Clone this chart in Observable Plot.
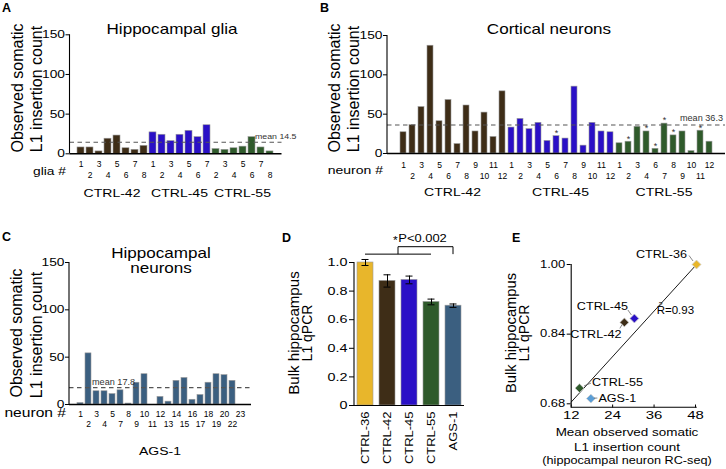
<!DOCTYPE html>
<html><head><meta charset="utf-8">
<script src="https://cdn.jsdelivr.net/npm/d3@7"></script>
<script src="https://cdn.jsdelivr.net/npm/@observablehq/plot@0.6"></script>
<style>
body{margin:0;background:#fff;}
#fig{position:relative;width:726px;height:469px;background:#fff;overflow:hidden;font-family:"Liberation Sans",Arial,sans-serif;}
#fig svg{position:absolute;background:transparent;max-width:none;overflow:visible;}
</style></head><body><div id="fig"></div>
<script>
// ---------------- DATA ----------------
// A: hippocampal glia
const gliaIds42 = [1,2,3,4,5,6,7,8];
const gliaCounts42 = [8,8,3,19,23,7,5,10];
const gliaIds45 = [1,2,3,4,5,6,7];
const gliaCounts45 = [27,24,16,24,29,21,36];
const gliaIds55 = [2,3,4,5,6,7,8];
const gliaCounts55 = [6,5,7,9,21,8,3];
const gliaMean = 14.5;
// B: cortical neurons
const cortIds42 = [1,2,3,4,5,6,7,8,9,10,11,12];
const cortCounts42 = [27,36,59,137,41,68,12,61,28,52,21,79];
const cortIds45 = [1,2,3,4,5,6,7,8,9,10,11,12];
const cortCounts45 = [33,44,31,39,16,22,19,85,10,39,28,27];
const cortIds55 = [1,2,3,4,6,7,8,9,10,11,12];
const cortCounts55 = [13,15,34,28,6,38,23,28,3,29,15];
const cortStar45 = [6];
const cortStar55 = [2,4,6,7,8,11];
const cortMean = 36.3;
// C: hippocampal neurons AGS-1
const hipIds = [1,2,3,4,5,7,8,9,10,11,12,13,14,15,16,17,18,19,20,22,23];
const hipCounts = [1.5,54,14,14,11,15,1,23,32,0,8,3,25,28,5,10,23,32,31,25,0];
const hipMean = 17.8;
// D: bulk qPCR
const qpcrDonors = ["CTRL-36","CTRL-42","CTRL-45","CTRL-55","AGS-1"];
const qpcrValues = [1.0,0.871,0.878,0.724,0.698];
const qpcrErrors = [0.021,0.043,0.027,0.02,0.012];
// E: correlation
const corrDonors = ["CTRL-36","CTRL-45","CTRL-42","CTRL-55","AGS-1"];
const corrCounts = [48.3,30.3,27.4,14.4,17.7];
const corrQpcr = [1.0,0.876,0.867,0.716,0.692];
const fitCounts = [12,48.3];
const fitQpcr = [0.684,1.0];
const r2Value = "0.93";
// ticks
const countTicks = [0,50,100,150];
const qpcrTicks = [0,0.2,0.4,0.6,0.8,1.0];
const corrXTicks = [12,24,36,48];
const corrYTicks = [0.68,0.84,1.00];

// ---------------- STYLE ----------------
const FONT = '"Liberation Sans", Arial, sans-serif';
const donorColor = {"CTRL-36":"#E8B62B","CTRL-42":"#3E2D17","CTRL-45":"#2A10C6","CTRL-55":"#2F5A2B","AGS-1":"#3B5F80"};
const corrColor = {"CTRL-36":"#E8B62B","CTRL-42":"#3E2D17","CTRL-45":"#2A10C6","CTRL-55":"#2F5A2B","AGS-1":"#5B9ED6"};
const baseStyle = {fontFamily: FONT, background: "transparent", overflow: "visible", color: "#000"};
const fig = document.getElementById("fig");

function place(svg, left, top){ svg.style.left = left+"px"; svg.style.top = top+"px"; fig.appendChild(svg); return svg; }
function txt(svg, x, y, s, o = {}){
  const t = d3.select(svg).append("text")
    .attr("transform", `translate(${x},${y})` + (o.rotate ? ` rotate(${o.rotate})` : "") + ((o.sx||1)!==1 ? ` scale(${o.sx},1)` : ""))
    .attr("text-anchor", o.anchor || "middle")
    .attr("dy", o.dy ?? "0.35em")
    .attr("font-size", o.size || 11)
    .attr("font-family", FONT)
    .attr("fill", o.fill || "#000");
  if (o.weight) t.attr("font-weight", o.weight);
  if (s != null) t.text(s);
  return t;
}
function seg(svg, x1, y1, x2, y2, o = {}){
  d3.select(svg).append("line").attr("x1",x1).attr("y1",y1).attr("x2",x2).attr("y2",y2)
    .attr("stroke", o.stroke || "#000").attr("stroke-width", o.width || 1).attr("fill","none");
}
function stretch(svg, selector, sx){
  svg.querySelectorAll(selector).forEach(t => {
    let tr = t.getAttribute("transform") || "";
    const x = t.getAttribute("x");
    if (x != null && !isNaN(+x)) { tr += ` translate(${+x},0)`; t.removeAttribute("x"); }
    t.setAttribute("transform", tr + ` scale(${sx},1)`);
  });
}
function buildRows(groups){
  const rows = [];
  let gi = 0;
  for (const g of groups) g.ids.forEach((id, i) => rows.push({key: g.donor+"#"+id, donor: g.donor, id, count: g.counts[i], star: (g.stars||[]).includes(id), idx: gi++}));
  return rows;
}
function groupLabels(plot, rows, y, o){
  const x = plot.scale("x"), bw = x.bandwidth;
  for (const donor of new Set(rows.map(d => d.donor))){
    const ks = rows.filter(d => d.donor === donor).map(d => d.key);
    const cx = (x.apply(ks[0]) + x.apply(ks[ks.length-1]) + bw) / 2;
    txt(plot, cx, y, donor, o);
  }
}
function yAxisLine(plot, top){
  const x0 = plot.scale("x").range[0], ys = plot.scale("y");
  seg(plot, x0, ys.apply(top), x0, ys.apply(0), {width: 1.1});
}
function countPlot(rows, cfg){
  const keys = rows.map(d => d.key);
  const lab = new Map(rows.map(d => [d.key, String(d.id)]));
  return Plot.plot({
    width: cfg.width, height: cfg.height,
    marginLeft: cfg.ml, marginRight: cfg.mr, marginTop: cfg.mt, marginBottom: cfg.mb,
    style: baseStyle,
    x: {type: "band", domain: keys, paddingInner: cfg.pad, paddingOuter: 0.08},
    y: {domain: [0,150]},
    color: {type: "identity"},
    marks: [
      Plot.barY(rows, {x: "key", y: "count", fill: d => donorColor[d.donor], stroke: "#9a9a9a", strokeWidth: 0.6}),
      Plot.ruleY([cfg.mean], {stroke: "#555", strokeWidth: 1.1, strokeDasharray: "4.5,3.5"}),
      Plot.ruleY([0], {stroke: "#000", strokeWidth: 1.5}),
      Plot.text(rows.filter(d => d.star), {x: "key", y: "count", text: () => "*", dy: -3, fontSize: 9, fill: "#333"}),
      Plot.axisY(countTicks, {tickSize: 4, tickPadding: 1, fontSize: 11.3, label: null}),
      Plot.axisX(keys.filter((k,i) => i%2===0), {tickSize: 0, tickPadding: cfg.p1, fontSize: 8.5, tickFormat: k => lab.get(k), label: null}),
      Plot.axisX(keys.filter((k,i) => i%2===1), {tickSize: 0, tickPadding: cfg.p2, fontSize: 8.5, tickFormat: k => lab.get(k), label: null})
    ]
  });
}
const YT = 'g[aria-label="y-axis tick label"] text';
const XT = 'g[aria-label="x-axis tick label"] text';

// ---------------- PANEL A ----------------
const rowsA = buildRows([
  {donor: "CTRL-42", ids: gliaIds42, counts: gliaCounts42},
  {donor: "CTRL-45", ids: gliaIds45, counts: gliaCounts45},
  {donor: "CTRL-55", ids: gliaIds55, counts: gliaCounts55}
]);
const pA = place(countPlot(rowsA, {width: 310, height: 205, ml: 69.5, mr: 28.5, mt: 34.3, mb: 51.7, pad: 0.22, mean: gliaMean, p1: 7.5, p2: 18.4}), 0, 0);
stretch(pA, YT, 1.22);
yAxisLine(pA, 150);
txt(pA, 172, 29, "Hippocampal glia", {size: 14, sx: 1.22});
txt(pA, 17.5, 88, "Observed somatic", {size: 16, rotate: -90});
txt(pA, 36, 89, "L1 insertion count", {size: 16, rotate: -90});
txt(pA, 66, 170.7, "glia #", {size: 11.3, sx: 1.22, anchor: "end"});
groupLabels(pA, rowsA, 193, {size: 11.5, sx: 1.22});
{ const x = pA.scale("x"), y = pA.scale("y");
  txt(pA, x.apply(rowsA[20].key) - 2, y.apply(gliaMean) - 6, "mean " + gliaMean, {size: 8, sx: 1.1, anchor: "start", fill: "#333"}); }
txt(pA, 2, 7.5, "A", {size: 12.5, weight: "bold", anchor: "start"});

// ---------------- PANEL B ----------------
const rowsB = buildRows([
  {donor: "CTRL-42", ids: cortIds42, counts: cortCounts42},
  {donor: "CTRL-45", ids: cortIds45, counts: cortCounts45, stars: cortStar45},
  {donor: "CTRL-55", ids: cortIds55, counts: cortCounts55, stars: cortStar55}
]);
const pB = place(countPlot(rowsB, {width: 416, height: 205, ml: 77, mr: 1, mt: 35, mb: 52, pad: 0.38, mean: cortMean, p1: 8.3, p2: 19.7}), 310, 0);
stretch(pB, YT, 1.22);
yAxisLine(pB, 150);
txt(pB, 239, 29, "Cortical neurons", {size: 14, sx: 1.22});
txt(pB, 24, 88, "Observed somatic", {size: 16, rotate: -90});
txt(pB, 43, 89, "L1 insertion count", {size: 16, rotate: -90});
txt(pB, 73, 170, "neuron #", {size: 11.5, sx: 1.22, anchor: "end"});
groupLabels(pB, rowsB, 192, {size: 11.5, sx: 1.22});
{ const y = pB.scale("y");
  txt(pB, 413, y.apply(cortMean) - 6.5, "mean " + cortMean, {size: 8.3, sx: 1.1, anchor: "end", fill: "#333"}); }
txt(pB, 10, 7.5, "B", {size: 12.5, weight: "bold", anchor: "start"});

// ---------------- PANEL C ----------------
const rowsC = buildRows([{donor: "AGS-1", ids: hipIds, counts: hipCounts}]);
const pC = place(countPlot(rowsC, {width: 260, height: 239, ml: 69, mr: 9, mt: 32, mb: 65, pad: 0.22, mean: hipMean, p1: 6.2, p2: 16.8}), 0, 230);
stretch(pC, YT, 1.22);
yAxisLine(pC, 150);
txt(pC, 161, 23.3, "Hippocampal", {size: 14, sx: 1.22});
txt(pC, 161, 38.3, "neurons", {size: 14, sx: 1.22});
txt(pC, 16, 103, "Observed somatic", {size: 16, rotate: -90});
txt(pC, 36, 105, "L1 insertion count", {size: 16, rotate: -90});
txt(pC, 66, 183, "neuron #", {size: 12.5, sx: 1.25, anchor: "end"});
groupLabels(pC, rowsC, 221, {size: 11.5, sx: 1.22});
{ const x = pC.scale("x"), y = pC.scale("y");
  txt(pC, x.apply(rowsC[2].key) - 1, y.apply(hipMean) - 5.5, "mean " + hipMean, {size: 8.3, sx: 1.1, anchor: "start", fill: "#333"}); }
txt(pC, 2, 7, "C", {size: 12.5, weight: "bold", anchor: "start"});

// ---------------- PANEL D ----------------
const rowsD = qpcrDonors.map((d, i) => ({donor: d, value: qpcrValues[i], lo: qpcrValues[i] - qpcrErrors[i], hi: qpcrValues[i] + qpcrErrors[i]}));
const pD = place(Plot.plot({
  width: 230, height: 239, marginLeft: 104, marginRight: 16, marginTop: 32, marginBottom: 64,
  style: baseStyle,
  x: {type: "band", domain: qpcrDonors, paddingInner: 0.27, paddingOuter: 0.08},
  y: {domain: [0, 1]},
  color: {type: "identity"},
  marks: [
    Plot.barY(rowsD, {x: "donor", y: "value", fill: d => donorColor[d.donor], stroke: "#9a9a9a", strokeWidth: 0.6}),
    Plot.ruleX(rowsD, {x: "donor", y1: "lo", y2: "hi", stroke: "#000", strokeWidth: 1}),
    Plot.tickY(rowsD, {x: "donor", y: "hi", insetLeft: 4.5, insetRight: 4.5, stroke: "#000"}),
    Plot.tickY(rowsD, {x: "donor", y: "lo", insetLeft: 4.5, insetRight: 4.5, stroke: "#000"}),
    Plot.ruleY([0], {stroke: "#000", strokeWidth: 1.2}),
    Plot.axisY(qpcrTicks, {tickSize: 5, tickPadding: 2, fontSize: 11.5, tickFormat: d => d === 0 ? "0" : d.toFixed(1), label: null}),
    Plot.axisX({tickRotate: -90, tickSize: 0, tickPadding: 6, fontSize: 11.8, label: null})
  ]
}), 250, 230);
stretch(pD, YT, 1.25);
stretch(pD, XT, 1.1);
yAxisLine(pD, 1);
{ const x = pD.scale("x"), y = pD.scale("y"), bw = x.bandwidth;
  const c = k => x.apply(k) + bw / 2;
  const yLow = y.apply(1.055), yHigh = y.apply(1.107);
  const xa = c("CTRL-36"), xb = c("CTRL-55"), xm = (xa + xb) / 2, xg = c("AGS-1");
  seg(pD, xa, yLow, xb, yLow);
  seg(pD, xm, yLow, xm, yHigh);
  seg(pD, xm, yHigh, xg, yHigh);
  seg(pD, xg, yHigh, xg, yLow);
  const t = txt(pD, xm - 5, 11.7, null, {size: 10.8, sx: 1.2, anchor: "start"});
  t.append("tspan").attr("font-size", 10).attr("dy", 1.8).text("*");
  t.append("tspan").attr("dy", -1.8).attr("dx", 0.5).text("P<0.002");
}
txt(pD, 44, 103, "Bulk hippocampus", {size: 14, sx: 1.08, rotate: -90});
txt(pD, 57, 103, "L1 qPCR", {size: 14, sx: 1.0, rotate: -90});
txt(pD, 32, 8, "D", {size: 12.5, weight: "bold", anchor: "start"});

// ---------------- PANEL E ----------------
const rowsE = corrDonors.map((d, i) => ({donor: d, count: corrCounts[i], qpcr: corrQpcr[i]}));
const fitRows = fitCounts.map((c, i) => ({count: c, qpcr: fitQpcr[i]}));
const pE = place(Plot.plot({
  width: 246, height: 239, marginLeft: 90.7, marginRight: 31, marginTop: 34, marginBottom: 65.7,
  style: baseStyle,
  x: {domain: [12, 48]},
  y: {domain: [0.68, 1.0]},
  color: {type: "identity"},
  marks: [
    Plot.ruleX([12], {y1: 0.672, y2: 1.0, stroke: "#000", strokeWidth: 1.1}),
    Plot.ruleY([0.672], {x1: 12, x2: 48.5, stroke: "#000", strokeWidth: 1.1}),
    Plot.line(fitRows, {x: "count", y: "qpcr", stroke: "#000", strokeWidth: 0.9}),
    Plot.dot(rowsE, {x: "count", y: "qpcr", symbol: "diamond2", r: 4, fill: d => corrColor[d.donor], stroke: "#cfcfcf", strokeWidth: 0.8}),
    Plot.axisY(corrYTicks, {tickSize: 4, tickPadding: 2, fontSize: 10, tickFormat: d => d.toFixed(2), label: null}),
    Plot.axisX(corrXTicks, {tickSize: 3, tickPadding: 4, fontSize: 10.5, label: null, dy: 1.2})
  ]
}), 480, 230);
stretch(pE, YT, 1.3);
stretch(pE, XT, 1.42);
{ const x = pE.scale("x"), y = pE.scale("y");
  const pos = {
    "CTRL-36": {dx: -9, dy: -10, anchor: "end", lead: [-7, -8.5, -3, -3]},
    "CTRL-45": {dx: -6, dy: -12, anchor: "end", lead: [-6, -8, -2.5, -3]},
    "CTRL-42": {dx: -2.5, dy: 12, anchor: "end", lead: [-4, 6.5, -2, 3]},
    "CTRL-55": {dx: 13, dy: -5, anchor: "start", lead: [5, -1.7, 12, -4.5]},
    "AGS-1": {dx: 8, dy: 0, anchor: "start", lead: [3.5, 0, 7, 0]}
  };
  for (const r of rowsE){
    const px = x.apply(r.count), py = y.apply(r.qpcr), p = pos[r.donor];
    seg(pE, px + p.lead[0], py + p.lead[1], px + p.lead[2], py + p.lead[3], {stroke: "#555", width: 0.7});
    txt(pE, px + p.dx, py + p.dy, r.donor, {size: 10.5, sx: 1.2, anchor: p.anchor});
  }
  const t = txt(pE, x.apply(36.9), y.apply(0.894), null, {size: 10, sx: 1.15, anchor: "start"});
  t.append("tspan").text("R");
  t.append("tspan").attr("font-size", 6.5).attr("dx", -5.6).attr("dy", -6.5).text("2");
  t.append("tspan").attr("dx", 2).attr("dy", 6.5).text("=" + r2Value);
}
txt(pE, 147, 202.3, "Mean observed somatic", {size: 11.5, sx: 1.17});
txt(pE, 147, 216.7, "L1 insertion count", {size: 11.5, sx: 1.17});
txt(pE, 147, 230, "(hippocampal neuron RC-seq)", {size: 11.5, sx: 1.1});
txt(pE, 31, 103, "Bulk hippocampus", {size: 14, sx: 1.05, rotate: -90});
txt(pE, 44, 103, "L1 qPCR", {size: 14, sx: 1.0, rotate: -90});
txt(pE, 32, 7.5, "E", {size: 12.5, weight: "bold", anchor: "start"});
</script></body></html>
